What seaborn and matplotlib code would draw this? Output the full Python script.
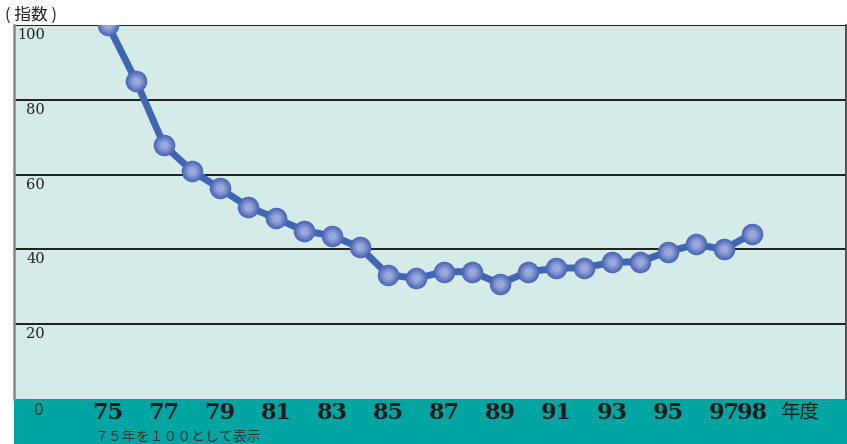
import matplotlib
matplotlib.use("Agg")
import matplotlib.pyplot as plt
import matplotlib.patches as mpatches
import seaborn as sns
import pandas as pd

# Index values by fiscal year (1975 = 100)
years = [75, 76, 77, 78, 79, 80, 81, 82, 83, 84, 85, 86,
         87, 88, 89, 90, 91, 92, 93, 94, 95, 96, 97, 98]
index_values = [100.0, 85.1, 67.9, 61.0, 56.3, 51.4, 48.3, 45.0, 43.6, 40.5, 33.2, 32.2,
                34.0, 34.0, 30.8, 34.0, 34.9, 35.1, 36.5, 36.7, 39.4, 41.3, 40.0, 44.2]
x_tick_years = [75, 77, 79, 81, 83, 85, 87, 89, 91, 93, 95, 97, 98]
y_tick_values = [100, 80, 60, 40, 20, 0]

df = pd.DataFrame({"year": years, "index": index_values})

sns.set_theme(style="white")
plt.rcParams["font.family"] = ["Noto Sans CJK JP", "DejaVu Sans"]

W, H = 847, 444
fig = plt.figure(figsize=(W / 100, H / 100), dpi=100)
fig.patch.set_facecolor("white")

# teal band under the plot area
fig.patches.append(mpatches.Rectangle((14 / W, 0), 1 - 14 / W, 46 / H,
                                      transform=fig.transFigure,
                                      facecolor="#00A5A2", edgecolor="none", zorder=-10))

ax = fig.add_axes([14 / W, 1 - 398.7 / H, 832 / W, (398.7 - 25.3) / H])
ax.set_facecolor("#D4EBE8")
ax.set_xlim(71.64, 101.36)
ax.set_ylim(0, 100)

for v in [20, 40, 60, 80, 100]:
    ax.axhline(v, color="#1e1e1e", lw=1.4, zorder=1)

sns.lineplot(data=df, x="year", y="index", ax=ax, color="#3F66B2",
             linewidth=5, zorder=3, legend=False)

# layered dots give each marker a rounded, shaded look
ax.scatter(df["year"], df["index"], s=240, color="#4F68B8", zorder=4, linewidths=0)
ax.scatter(df["year"], df["index"], s=170, color="#6479C3", zorder=5, linewidths=0)
ax.scatter(df["year"], df["index"], s=100, color="#7C8FCF", zorder=6, linewidths=0)
ax.scatter(df["year"], df["index"], s=40, color="#97A7DA", zorder=7, linewidths=0)

ax.set_xticks([])
ax.set_yticks([])
ax.set_xlabel("")
ax.set_ylabel("")
for side in ["top", "bottom"]:
    ax.spines[side].set_visible(False)
ax.spines["left"].set_color("#888888")
ax.spines["left"].set_linewidth(1.8)
ax.spines["right"].set_color("#333333")
ax.spines["right"].set_linewidth(1.2)

# y labels sit just beneath their gridlines
for v in y_tick_values:
    if v == 0:
        fig.text(44 / W, 1 - 410 / H, "0", ha="right", va="center",
                 fontsize=11, color="#333333", family="DejaVu Sans")
    else:
        ax.annotate(str(v), xy=(0, v), xycoords=("axes fraction", "data"),
                    xytext=(31, -10), textcoords="offset pixels", ha="right",
                    va="center", fontsize=10.5, color="#222222",
                    family="DejaVu Serif")

# year labels in the band
for yr in x_tick_years:
    ax.annotate(str(yr), xy=(yr, 0), xycoords=("data", "axes fraction"),
                xytext=(0, -14), textcoords="offset pixels", ha="center",
                va="center", fontsize=16, fontweight="bold", color="#1a1a1a",
                family="DejaVu Serif", annotation_clip=False)

fig.text(800 / W, 1 - 412 / H, "年度", ha="center", va="center",
         fontsize=14, color="#1a1a1a")
fig.text(95 / W, 1 - 437 / H, "７５年を１００として表示", ha="left", va="center",
         fontsize=10, color="#333333")
fig.text(5 / W, 1 - 15 / H, "( 指数 )", ha="left", va="center",
         fontsize=12, color="#222222")

fig.savefig("out.png", dpi=100, facecolor=fig.get_facecolor())
